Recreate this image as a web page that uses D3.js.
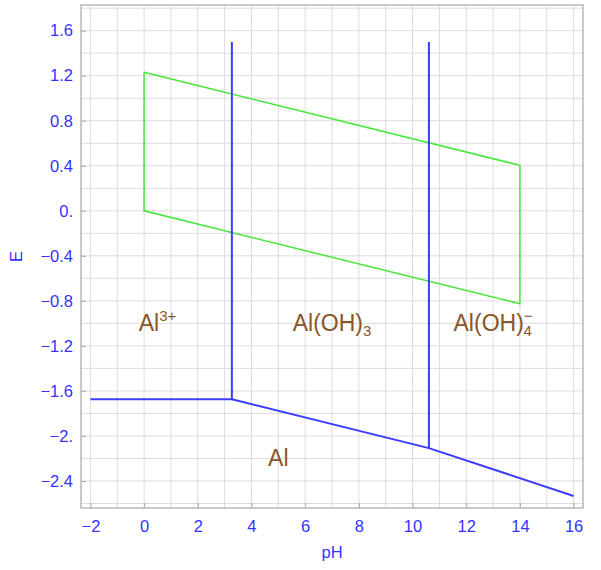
<!DOCTYPE html>
<html><head><meta charset="utf-8">
<script src="https://cdn.jsdelivr.net/npm/d3@7"></script>
<style>body{margin:0;background:#fff;} svg{display:block;}</style>
</head><body>
<svg id="c" width="601" height="570"></svg>
<script>
// Data
const xTicks = [-2, 0, 2, 4, 6, 8, 10, 12, 14, 16];
const xTickLabels = ["\u22122","0","2","4","6","8","10","12","14","16"];
const yTicks = [1.6, 1.2, 0.8, 0.4, 0, -0.4, -0.8, -1.2, -1.6, -2.0, -2.4];
const yTickLabels = ["1.6","1.2","0.8","0.4","0.","\u22120.4","\u22120.8","\u22121.2","\u22121.6","\u22122.","\u22122.4"];
// Al3+ / Al boundary, Al(OH)3 / Al and Al(OH)4- / Al boundaries
const boundaryPH = [-2, 3.27, 10.61, 16];
const boundaryE = [-1.674, -1.674, -2.108, -2.533];
// vertical boundaries (pH, Ebottom, Etop)
const vertPH = [3.27, 10.61];
const vertBottom = [-1.674, -2.108];
const vertTop = [1.5, 1.5];
// water stability region
const waterPH = [0, 14, 14, 0, 0];
const waterE = [1.23, 0.404, -0.826, 0, 1.23];
// species labels
const labelText = ["Al", "Al(OH)", "Al(OH)", "Al"];
const labelSup = ["3+", "", "\u2212", ""];
const labelSub = ["", "3", "4", ""];
const labelPH = [0.5, 7, 13, 5];
const labelE = [-1.0, -1.0, -1.0, -2.2];

const svg = d3.select("#c");
const L = 81, R = 583, T = 5, B = 508;
const x = d3.scaleLinear().domain([-2.35, 16.35]).range([L, R]);
const y = d3.scaleLinear().domain([-2.64, 1.828]).range([B, T]);

// grid
const gx = d3.range(-2, 17, 1), gy = d3.range(-2.6, 1.81, 0.2);
svg.append("g").selectAll("line").data(gx).join("line")
  .attr("x1", d => x(d)).attr("x2", d => x(d)).attr("y1", T).attr("y2", B)
  .attr("stroke", "#dcdcdc").attr("stroke-width", 1);
svg.append("g").selectAll("line").data(gy).join("line")
  .attr("y1", d => y(d)).attr("y2", d => y(d)).attr("x1", L).attr("x2", R)
  .attr("stroke", "#dcdcdc").attr("stroke-width", 1);

// axes (frame with ticks)
const fontFam = "'Liberation Sans', Arial, sans-serif";
const bottomAxis = d3.axisBottom(x).tickValues(xTicks).tickSize(-5).tickPadding(12)
  .tickFormat((d, i) => xTickLabels[i]);
const gb = svg.append("g").attr("transform", `translate(0,${B})`).call(bottomAxis);
const leftAxis = d3.axisLeft(y).tickValues(yTicks).tickSize(-5).tickPadding(8)
  .tickFormat((d, i) => yTickLabels[i]);
const gl = svg.append("g").attr("transform", `translate(${L},0)`).call(leftAxis);
[gb, gl].forEach(g => {
  g.select(".domain").remove();
  g.selectAll(".tick line").attr("stroke", "#aaa");
  g.selectAll(".tick text").attr("fill", "#3333ff").style("font-family", fontFam)
    .style("font-size", "16.5px");
});
// frame
svg.append("rect").attr("x", L).attr("y", T).attr("width", R - L).attr("height", B - T)
  .attr("fill", "none").attr("stroke", "#b8b8b8").attr("stroke-width", 1.5);

// water region
svg.append("path")
  .attr("d", d3.line().x(d => x(d[0])).y(d => y(d[1]))(waterPH.map((p, i) => [p, waterE[i]])))
  .attr("fill", "none").attr("stroke", "#44e838").attr("stroke-width", 1.5);

// boundaries
svg.append("path")
  .attr("d", d3.line().x(d => x(d[0])).y(d => y(d[1]))(boundaryPH.map((p, i) => [p, boundaryE[i]])))
  .attr("fill", "none").attr("stroke", "#3c3cff").attr("stroke-width", 2);
svg.append("g").selectAll("line").data(vertPH).join("line")
  .attr("x1", d => x(d)).attr("x2", d => x(d))
  .attr("y1", (d, i) => y(vertBottom[i])).attr("y2", (d, i) => y(vertTop[i]))
  .attr("stroke", "#3c3cff").attr("stroke-width", 2);

// species labels
const lab = svg.append("g").selectAll("text").data(labelText).join("text")
  .attr("x", (d, i) => x(labelPH[i])).attr("y", (d, i) => y(labelE[i]) + 8)
  .attr("text-anchor", "middle").attr("fill", "#8a5628")
  .style("font-family", fontFam).style("font-size", "23px");
lab.each(function(d, i) {
  const t = d3.select(this);
  t.append("tspan").text(d);
  if (labelSub[i] && labelSup[i]) {
    t.append("tspan").attr("dy", -10).style("font-size", "15px").text(labelSup[i]);
    t.append("tspan").attr("dx", -9).attr("dy", 15).style("font-size", "15px").text(labelSub[i]);
  } else if (labelSup[i]) {
    t.append("tspan").attr("dy", -10).style("font-size", "15px").text(labelSup[i]);
  } else if (labelSub[i]) {
    t.append("tspan").attr("dy", 5).style("font-size", "15px").text(labelSub[i]);
  }
});

// axis titles
svg.append("text").attr("x", (L + R) / 2).attr("y", 558).attr("text-anchor", "middle")
  .attr("fill", "#3333ff").style("font-family", fontFam).style("font-size", "16.5px").text("pH");
svg.append("text").attr("transform", `translate(22,${(T + B) / 2}) rotate(-90)`)
  .attr("text-anchor", "middle").attr("fill", "#3333ff")
  .style("font-family", fontFam).style("font-size", "16.5px").text("E");
</script>
</body></html>
